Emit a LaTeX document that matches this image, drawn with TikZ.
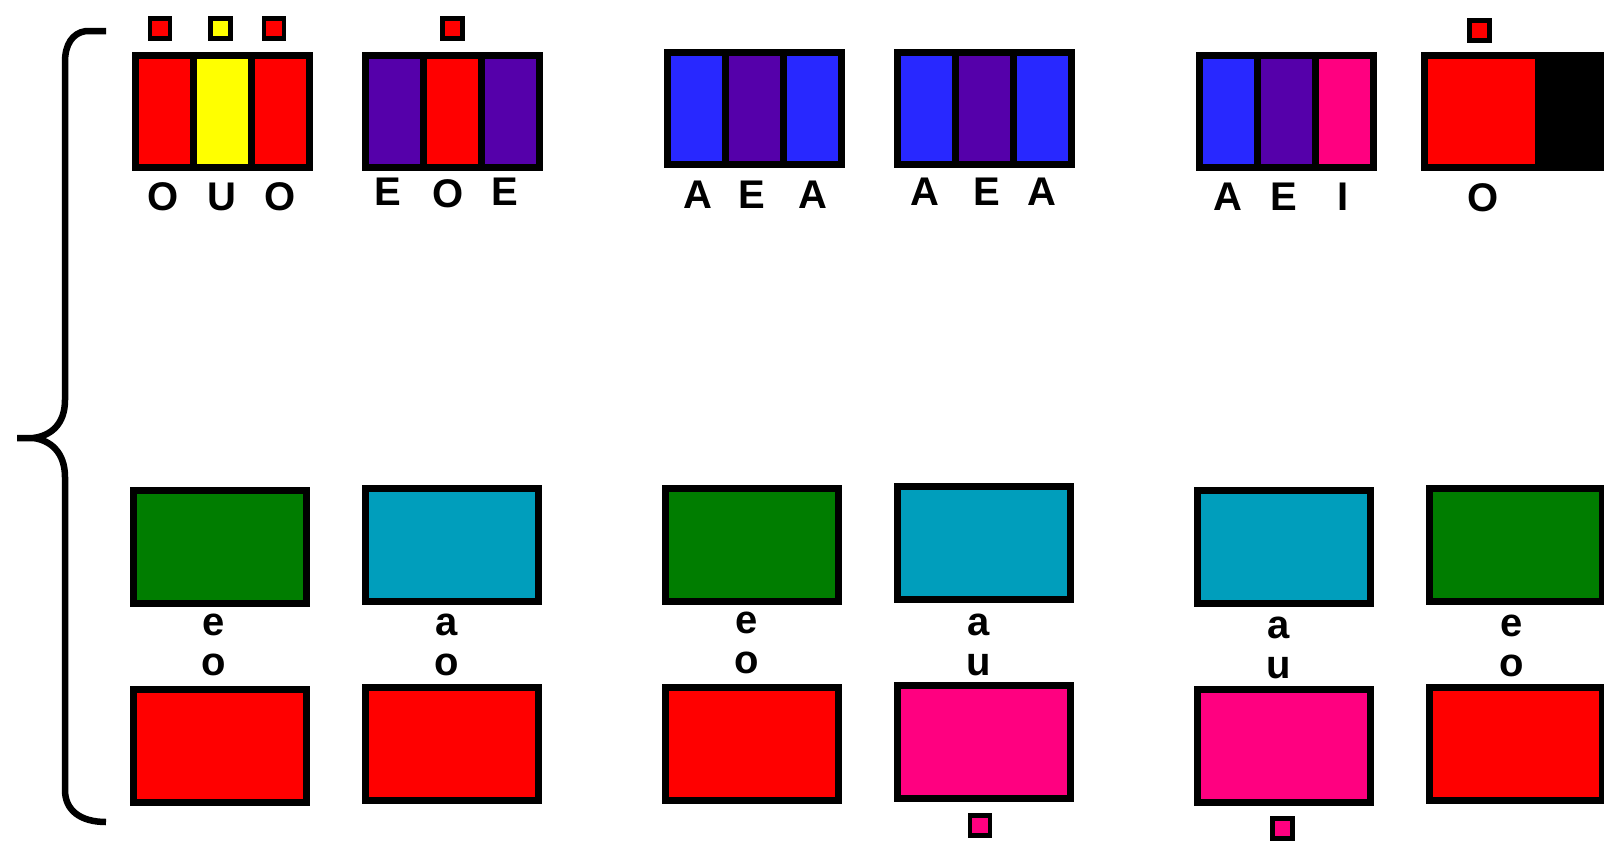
\documentclass[tikz,border=0pt]{standalone}
\usepackage{xcolor}
\usepackage{fontspec}
\setmainfont{Liberation Sans}
\usepackage{tikz}
\usetikzlibrary{positioning}

\definecolor{vred}{RGB}{255,0,0}
\definecolor{vyellow}{RGB}{255,255,0}
\definecolor{vpurple}{RGB}{85,0,170}
\definecolor{vblue}{RGB}{40,40,255}
\definecolor{vpink}{RGB}{255,0,128}
\definecolor{vgreen}{RGB}{0,125,0}
\definecolor{vcyan}{RGB}{0,158,188}

\begin{document}
\begin{tikzpicture}[
    x=1pt, y=-1pt,
    frame/.style={rectangle, fill=black, inner sep=0pt, outer sep=0pt, minimum width=181pt, minimum height=119pt},
    stripe/.style={rectangle, inner sep=0pt, outer sep=0pt, minimum width=51pt, minimum height=105pt},
    marker/.style={rectangle, draw=black, line width=4.5pt, minimum size=20pt, inner sep=0pt},
    tile/.style={rectangle, draw=black, line width=7pt, minimum width=173pt, minimum height=113pt, inner sep=0pt},
    letter/.style={font=\fontsize{40}{40}\selectfont\bfseries, inner sep=0pt, align=center},
    node distance=7pt
]
    \useasboundingbox (0,0) rectangle (1604,844);
    \clip (0,0) rectangle (1604,844);

    % Brace
    \draw[line width=6.5pt] (106,31) -- (86,31) .. controls (72,33) and (65,45) .. (65,62)
        -- (65,400) .. controls (65,425) and (50,436) .. (33,438) -- (17,438)
        -- (33,438) .. controls (50,440) and (65,452) .. (65,477)
        -- (65,790) .. controls (65,810) and (80,822) .. (106,822);

    % Top row: O U O
    \node[frame] (t1) at (222,111.5) {};
    \node[stripe, fill=vyellow] (t1b) at (t1) {};
    \node[stripe, fill=vred, left=of t1b] (t1a) {};
    \node[stripe, fill=vred, right=of t1b] (t1c) {};
    \node[marker, fill=vred] (m1a) at (160,28.5) {};
    \node[marker, fill=vyellow] (m1b) at (220.5,28.5) {};
    \node[marker, fill=vred] (m1c) at (274,28.5) {};
    \node[letter] (l1a) at (163,197) {O};
    \node[letter] (l1b) at (222,197) {U};
    \node[letter] (l1c) at (280,197) {O};

    % Top row: E O E
    \node[frame] (t2) at (452,111.5) {};
    \node[stripe, fill=vred] (t2b) at (t2) {};
    \node[stripe, fill=vpurple, left=of t2b] (t2a) {};
    \node[stripe, fill=vpurple, right=of t2b] (t2c) {};
    \node[marker, fill=vred] (m2) at (452.5,28.5) {};
    \node[letter] (l2a) at (388,192) {E};
    \node[letter] (l2b) at (448,194) {O};
    \node[letter] (l2c) at (505,192) {E};

    % Top row: A E A
    \node[frame] (t3) at (754.5,108.5) {};
    \node[stripe, fill=vpurple] (t3b) at (t3) {};
    \node[stripe, fill=vblue, left=of t3b] (t3a) {};
    \node[stripe, fill=vblue, right=of t3b] (t3c) {};
    \node[letter] (l3a) at (698,195) {A};
    \node[letter] (l3b) at (752,195) {E};
    \node[letter] (l3c) at (813,195) {A};

    % Top row: A E A
    \node[frame] (t4) at (984,108.5) {};
    \node[stripe, fill=vpurple] (t4b) at (t4) {};
    \node[stripe, fill=vblue, left=of t4b] (t4a) {};
    \node[stripe, fill=vblue, right=of t4b] (t4c) {};
    \node[letter] (l4a) at (925,192) {A};
    \node[letter] (l4b) at (987,192) {E};
    \node[letter] (l4c) at (1042,192) {A};

    % Top row: A E I
    \node[frame] (t5) at (1286.5,111.5) {};
    \node[stripe, fill=vpurple] (t5b) at (t5) {};
    \node[stripe, fill=vblue, left=of t5b] (t5a) {};
    \node[stripe, fill=vpink, right=of t5b] (t5c) {};
    \node[letter] (l5a) at (1228,197) {A};
    \node[letter] (l5b) at (1284,197) {E};
    \node[letter] (l5c) at (1343,197) {I};

    % Top row: O
    \node[frame, minimum width=190pt] (t6) at (1516,111.5) {};
    \node[stripe, minimum width=107pt, fill=vred] (t6a) at (1481.5,111.5) {};
    \node[marker, fill=vred] (m6) at (1479.5,30.5) {};
    \node[letter] (l6) at (1483,198) {O};

    % Bottom row
    \node[tile, fill=vgreen] (u1) at (220,547) {};
    \node[tile, fill=vred, below=79pt of u1] (d1) {};
    \node[letter] (p1) at (214,645) {e\\o};

    \node[tile, fill=vcyan] (u2) at (452,544.5) {};
    \node[tile, fill=vred, below=79pt of u2] (d2) {};
    \node[letter] (p2) at (447,645) {a\\o};

    \node[tile, fill=vgreen] (u3) at (752,544.5) {};
    \node[tile, fill=vred, below=79pt of u3] (d3) {};
    \node[letter] (p3) at (747,643) {e\\o};

    \node[tile, fill=vcyan] (u4) at (984,542.5) {};
    \node[tile, fill=vpink, below=79pt of u4] (d4) {};
    \node[letter] (p4) at (979,645) {a\\u};
    \node[marker, fill=vpink] (m4) at (980,825.5) {};

    \node[tile, fill=vcyan] (u5) at (1284,547) {};
    \node[tile, fill=vpink, below=79pt of u5] (d5) {};
    \node[letter] (p5) at (1279,648) {a\\u};
    \node[marker, fill=vpink] (m5) at (1282.5,828.5) {};

    \node[tile, fill=vgreen] (u6) at (1516,544.5) {};
    \node[tile, fill=vred, below=79pt of u6] (d6) {};
    \node[letter] (p6) at (1512,646) {e\\o};
\end{tikzpicture}
\end{document}
